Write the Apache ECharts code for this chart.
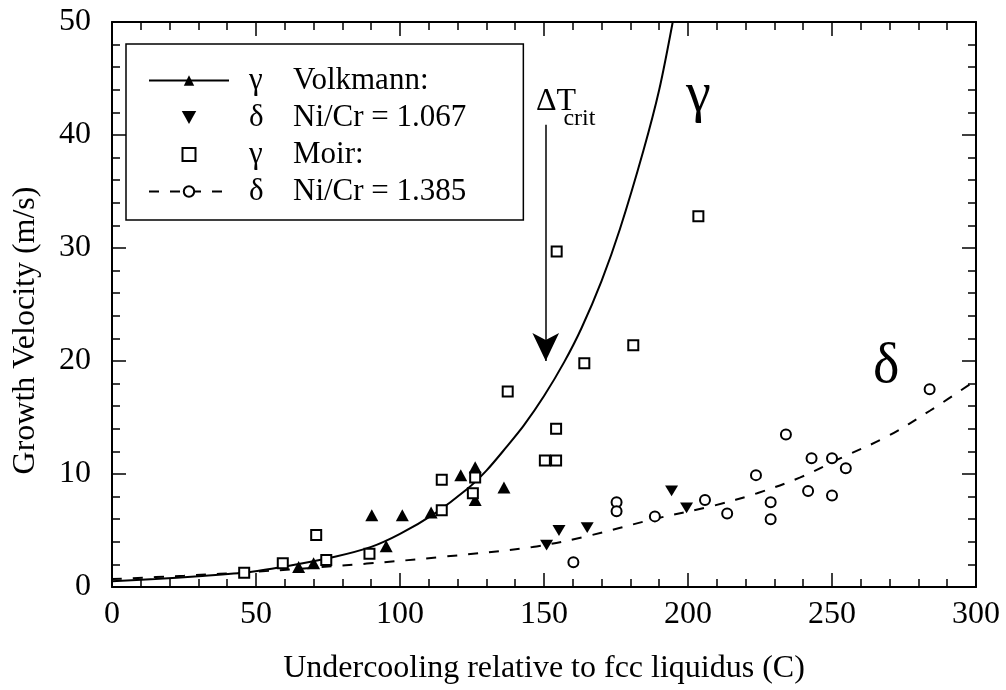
<!DOCTYPE html>
<html><head><meta charset="utf-8">
<script src="https://cdn.jsdelivr.net/npm/echarts@6/dist/echarts.min.js"></script>
<style>html,body{margin:0;padding:0;background:#fff}#c{width:1006px;height:690px}</style>
</head><body><div id="c"></div>
<script>
// ---- data ----
const xTicks = [0, 50, 100, 150, 200, 250, 300];
const yTicks = [0, 10, 20, 30, 40, 50];

// γ fit curve (solid) and δ fit curve (dashed)
const gammaCurve = [[0,0.5],[15,0.7],[30,0.95],[48,1.33],[62,1.9],[77,2.65],[90,3.55],[100,4.7],[112,6.5],[123,8.6],[130,10.3],[137,12.4],[143,14.3],[150,16.9],[157,19.9],[163,22.9],[170,27.1],[176.4,31.7],[184.5,38.6],[190,44],[194.7,50]];
const deltaCurve = [[0,0.7],[25,1.0],[50,1.35],[88.5,2.07],[114,2.65],[146,3.54],[165,4.5],[188,6.0],[209,7.2],[224,8.3],[239,9.7],[253,11.4],[269,13.3],[284,15.6],[300,18.3]];

// Volkmann, Ni/Cr = 1.067
const volkmannGamma = [[64.8,1.77],[70.0,2.1],[90.2,6.35],[95.2,3.6],[100.8,6.35],[110.8,6.6],[121.1,9.9],[126.1,10.6],[126.1,7.7],[136.1,8.8]];
const volkmannDelta = [[150.9,3.7],[155.2,5.0],[165.0,5.25],[194.3,8.5],[199.5,7.0]];
// Moir, Ni/Cr = 1.385
const moirGamma = [[45.9,1.27],[59.3,2.1],[70.9,4.6],[74.4,2.4],[89.4,2.95],[114.5,6.8],[114.5,9.5],[125.3,8.3],[126.1,9.7],[137.4,17.3],[150.3,11.2],[154.2,11.2],[154.2,14.0],[154.4,29.7],[164.0,19.8],[181.0,21.4],[203.6,32.8]];
const moirDelta = [[160.2,2.2],[175.2,7.5],[175.2,6.7],[188.5,6.25],[205.9,7.7],[213.6,6.5],[223.6,9.9],[228.7,7.5],[228.7,6.0],[234,13.5],[241.7,8.5],[242.9,11.4],[250,11.4],[250,8.1],[254.8,10.5],[283.9,17.5]];

const legendNames = ['γ Volkmann:', 'δ Ni/Cr = 1.067', 'γ Moir:', 'δ Ni/Cr = 1.385'];
const axisNames = ['Undercooling relative to fcc liquidus (C)', 'Growth Velocity (m/s)'];

// annotations (data coordinates)
const critArrow = [[150.6, 40.9], [150.6, 20.0]];
const annotText = ['ΔT', 'crit', 'γ', 'δ'];
const annotAt = [[154.2, 43.0], [162.3, 41.4], [203.6, 43.4], [268.8, 19.4]];

// ---- styles ----
const FONT = 'Liberation Serif, Times New Roman, serif';
const annotSize = [32, 24, 56, 56];
const BLACK = '#000';

const chart = echarts.init(document.getElementById('c'), null, {renderer: 'canvas'});

const xCommon = {
  type: 'value', min: xTicks[0], max: xTicks[xTicks.length - 1], interval: xTicks[1] - xTicks[0],
  axisLine: {show: true, onZero: false, lineStyle: {color: BLACK, width: 2}},
  axisTick: {show: true, inside: true, length: 14, lineStyle: {color: BLACK, width: 1.5}},
  minorTick: {show: true, splitNumber: 5, length: 8, lineStyle: {color: BLACK, width: 1.5}},
  splitLine: {show: false}
};
const yCommon = {
  type: 'value', min: yTicks[0], max: yTicks[yTicks.length - 1], interval: yTicks[1] - yTicks[0],
  axisLine: {show: true, onZero: false, lineStyle: {color: BLACK, width: 2}},
  axisTick: {show: true, inside: true, length: 14, lineStyle: {color: BLACK, width: 1.5}},
  minorTick: {show: true, splitNumber: 5, length: 8, lineStyle: {color: BLACK, width: 1.5}},
  splitLine: {show: false}
};

const option = {
  animation: false,
  backgroundColor: '#fff',
  grid: {left: 112, right: 30, top: 22, bottom: 103, containLabel: false},
  xAxis: [
    Object.assign({}, xCommon, {
      position: 'bottom',
      name: axisNames[0], nameLocation: 'middle', nameGap: 66,
      nameTextStyle: {fontFamily: FONT, fontSize: 32, color: BLACK},
      axisLabel: {show: true, margin: 12, fontFamily: FONT, fontSize: 32, color: BLACK}
    }),
    Object.assign({}, xCommon, {position: 'top', axisLabel: {show: false}})
  ],
  yAxis: [
    Object.assign({}, yCommon, {
      position: 'left',
      name: axisNames[1], nameLocation: 'middle', nameGap: 70, nameRotate: 90,
      nameTextStyle: {fontFamily: FONT, fontSize: 32, color: BLACK, padding: [0, 52, 0, 0]},
      axisLabel: {show: true, margin: 21, fontFamily: FONT, fontSize: 32, color: BLACK}
    }),
    Object.assign({}, yCommon, {position: 'right', axisLabel: {show: false}})
  ],
  legend: {
    data: legendNames,
    orient: 'vertical',
    left: 126, top: 44,
    padding: [21, 57, 13, 22],
    itemWidth: 80, itemHeight: 13, itemGap: 6,
    symbolKeepAspect: true,
    backgroundColor: '#fff',
    borderColor: BLACK, borderWidth: 1.5,
    selectedMode: false,
    formatter: function (n) { return '{g|' + n.charAt(0) + '}{t|' + n.slice(2) + '}'; },
    textStyle: {
      fontFamily: FONT, fontSize: 31, color: BLACK,
      rich: {
        g: {fontFamily: FONT, fontSize: 31, color: BLACK, width: 44, padding: [0, 0, 0, 15]},
        t: {fontFamily: FONT, fontSize: 31, color: BLACK}
      }
    }
  },
  series: [
    {
      name: legendNames[0], type: 'line', data: gammaCurve, smooth: 0.3,
      symbol: 'triangle', showSymbol: false, symbolSize: 12, z: 2,
      lineStyle: {color: BLACK, width: 2}, itemStyle: {color: BLACK},
      silent: true,
      markLine: {
        silent: true, symbol: ['none', 'arrow'], symbolSize: [20, 28],
        label: {show: false},
        lineStyle: {color: BLACK, width: 1.5, type: 'solid'},
        data: [[{coord: critArrow[0]}, {coord: critArrow[1]}]]
      },
      markPoint: {
        silent: true,
        symbol: 'circle', symbolSize: 1,
        itemStyle: {color: 'rgba(0,0,0,0)'},
        data: annotText.map((t, i) => ({
          coord: annotAt[i],
          label: {show: true, position: 'inside', formatter: t, fontFamily: FONT, fontSize: annotSize[i], color: BLACK}
        }))
      }
    },
    {
      name: legendNames[3], type: 'line', data: deltaCurve, smooth: 0.35,
      symbol: 'emptyCircle', showSymbol: false, symbolSize: 11, z: 2,
      lineStyle: {color: BLACK, width: 2, type: [10, 11]}, itemStyle: {color: BLACK},
      silent: true
    },
    {
      name: 'γ Volkmann points', type: 'scatter', data: volkmannGamma, z: 3,
      symbol: 'triangle', symbolSize: [13, 12],
      itemStyle: {color: BLACK, opacity: 1}
    },
    {
      name: legendNames[1], type: 'scatter', data: volkmannDelta, z: 3,
      symbol: 'path://M0,0L20,0L10,18Z', symbolSize: [13, 12], symbolKeepAspect: true,
      itemStyle: {color: BLACK, opacity: 1}
    },
    {
      name: legendNames[2], type: 'scatter', data: moirGamma, z: 4,
      symbol: 'path://M0,0L10,0L10,10L0,10Z', symbolSize: 10, symbolKeepAspect: true,
      itemStyle: {color: '#fff', borderColor: BLACK, borderWidth: 2, opacity: 1}
    },
    {
      name: 'δ Moir points', type: 'scatter', data: moirDelta, z: 4,
      symbol: 'circle', symbolSize: 10,
      itemStyle: {color: '#fff', borderColor: BLACK, borderWidth: 2, opacity: 1}
    }
  ]
};
chart.setOption(option);
</script>
</body></html>
